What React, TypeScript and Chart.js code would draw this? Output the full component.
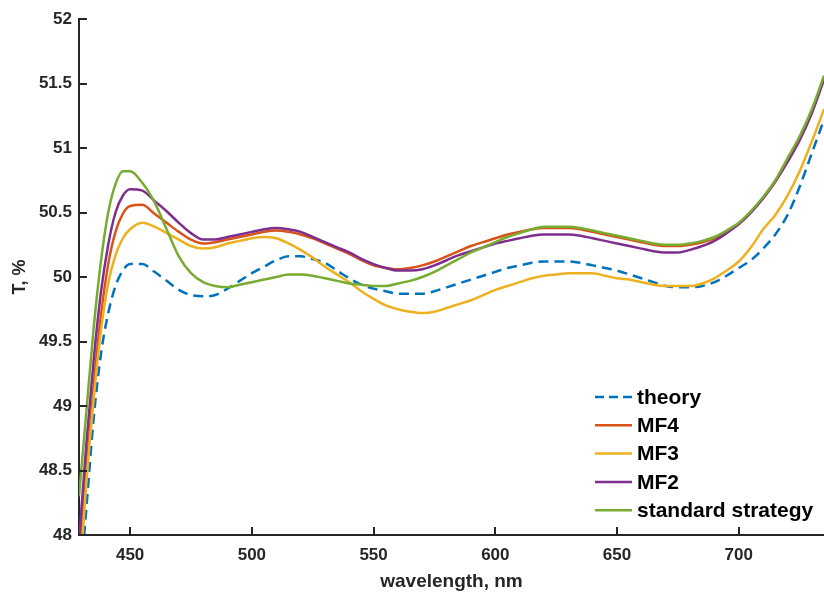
import React, { useEffect, useRef } from "react";
import { Chart, registerables } from "chart.js";

Chart.register(...registerables);

const wavelengths = [429, 432, 435, 438, 441, 444, 447, 450, 455, 460, 465, 470, 475, 480, 485, 490, 495, 500, 505, 510, 515, 520, 525, 530, 535, 540, 545, 550, 555, 560, 565, 570, 575, 580, 585, 590, 595, 600, 605, 610, 615, 620, 625, 630, 635, 640, 645, 650, 655, 660, 665, 670, 675, 680, 685, 690, 695, 700, 705, 710, 715, 720, 725, 730, 735];

const theory = [47.5, 48.2, 48.9, 49.4, 49.72, 49.93, 50.05, 50.1, 50.1, 50.04, 49.97, 49.9, 49.86, 49.85, 49.86, 49.91, 49.97, 50.03, 50.08, 50.13, 50.16, 50.16, 50.14, 50.11, 50.05, 49.99, 49.94, 49.91, 49.89, 49.87, 49.87, 49.87, 49.89, 49.92, 49.95, 49.98, 50.01, 50.04, 50.07, 50.09, 50.11, 50.12, 50.12, 50.12, 50.11, 50.09, 50.07, 50.05, 50.02, 49.99, 49.96, 49.93, 49.92, 49.92, 49.93, 49.96, 50.01, 50.07, 50.13, 50.22, 50.33, 50.48, 50.7, 50.96, 51.22];

const mf4 = [47.75, 48.5, 49.15, 49.7, 50.1, 50.35, 50.49, 50.55, 50.56, 50.49, 50.42, 50.35, 50.29, 50.26, 50.27, 50.29, 50.31, 50.33, 50.35, 50.36, 50.35, 50.33, 50.3, 50.26, 50.22, 50.18, 50.13, 50.09, 50.07, 50.06, 50.07, 50.09, 50.12, 50.16, 50.2, 50.24, 50.27, 50.3, 50.33, 50.35, 50.37, 50.38, 50.38, 50.38, 50.37, 50.35, 50.33, 50.31, 50.29, 50.27, 50.25, 50.24, 50.24, 50.25, 50.27, 50.3, 50.35, 50.41, 50.5, 50.61, 50.74, 50.9, 51.07, 51.28, 51.54];

const mf3 = [47.6, 48.4, 49.05, 49.58, 49.95, 50.17, 50.3, 50.37, 50.42, 50.39, 50.34, 50.29, 50.24, 50.22, 50.23, 50.26, 50.28, 50.3, 50.31, 50.3, 50.26, 50.21, 50.15, 50.08, 50.02, 49.96, 49.89, 49.83, 49.78, 49.75, 49.73, 49.72, 49.73, 49.76, 49.79, 49.82, 49.86, 49.9, 49.93, 49.96, 49.99, 50.01, 50.02, 50.03, 50.03, 50.03, 50.01, 49.99, 49.98, 49.96, 49.94, 49.93, 49.93, 49.93, 49.95, 49.99, 50.05, 50.12, 50.23, 50.37, 50.48, 50.63, 50.82, 51.05, 51.3];

const mf2 = [47.95, 48.7, 49.35, 49.88, 50.25, 50.5, 50.63, 50.68, 50.67, 50.59, 50.51, 50.42, 50.34, 50.29, 50.29, 50.31, 50.33, 50.35, 50.37, 50.38, 50.37, 50.35, 50.31, 50.27, 50.23, 50.19, 50.14, 50.1, 50.07, 50.05, 50.05, 50.06, 50.09, 50.13, 50.17, 50.2, 50.23, 50.26, 50.28, 50.3, 50.32, 50.33, 50.33, 50.33, 50.32, 50.3, 50.28, 50.26, 50.24, 50.22, 50.2, 50.19, 50.19, 50.21, 50.24, 50.28, 50.34, 50.41, 50.5, 50.61, 50.74, 50.89, 51.06, 51.27, 51.53];

const standard = [48.3, 48.95, 49.6, 50.12, 50.5, 50.72, 50.82, 50.82, 50.73, 50.58, 50.37, 50.16, 50.03, 49.96, 49.93, 49.92, 49.94, 49.96, 49.98, 50.0, 50.02, 50.02, 50.01, 49.99, 49.97, 49.95, 49.94, 49.93, 49.93, 49.95, 49.97, 50.0, 50.04, 50.09, 50.14, 50.19, 50.23, 50.27, 50.31, 50.34, 50.37, 50.39, 50.39, 50.39, 50.38, 50.36, 50.34, 50.32, 50.3, 50.28, 50.26, 50.25, 50.25, 50.26, 50.28, 50.31, 50.36, 50.42, 50.51, 50.62, 50.75, 50.92, 51.09, 51.3, 51.56];

const seriesLabels = ["theory", "MF4", "MF3", "MF2", "standard strategy"];
const seriesValues = [theory, mf4, mf3, mf2, standard];
const seriesColors = ["#0072BD", "#D95319", "#EDB120", "#7E2F8E", "#77AC30"];
const seriesDashed = [true, false, false, false, false];

const xTicks = [450, 500, 550, 600, 650, 700];
const yTicks = [48, 48.5, 49, 49.5, 50, 50.5, 51, 51.5, 52];

const xTitle = "wavelength, nm";
const yTitle = "T, %";

const FONT = "'Liberation Sans', Arial, Helvetica, sans-serif";
const AXIS = "#262626";

const overlayPlugin = {
  id: "overlay",
  afterDatasetsDraw(chart: any) {
    const { ctx, chartArea, scales } = chart;
    ctx.save();
    // inside tick marks
    ctx.strokeStyle = AXIS;
    ctx.lineWidth = 2;
    ctx.setLineDash([]);
    xTicks.forEach((v) => {
      const px = Math.round(scales.x.getPixelForValue(v));
      ctx.beginPath();
      ctx.moveTo(px, chartArea.bottom);
      ctx.lineTo(px, chartArea.bottom - 8);
      ctx.stroke();
    });
    yTicks.forEach((v) => {
      const py = Math.round(scales.y.getPixelForValue(v));
      ctx.beginPath();
      ctx.moveTo(chartArea.left, py);
      ctx.lineTo(chartArea.left + 8, py);
      ctx.stroke();
    });
    // legend
    const lx0 = 595;
    const lx1 = 632;
    const tx = 637;
    const y0 = 397;
    const dy = 28.3;
    ctx.font = `bold 21px ${FONT}`;
    ctx.textBaseline = "middle";
    ctx.textAlign = "left";
    seriesLabels.forEach((label, i) => {
      const y = y0 + i * dy;
      ctx.strokeStyle = seriesColors[i];
      ctx.lineWidth = 2.5;
      ctx.setLineDash(seriesDashed[i] ? [9, 5] : []);
      ctx.beginPath();
      ctx.moveTo(lx0, y);
      ctx.lineTo(lx1, y);
      ctx.stroke();
      ctx.setLineDash([]);
      ctx.fillStyle = "#000000";
      ctx.fillText(label, tx, y + 1);
    });
    ctx.restore();
  },
};

export default function App() {
  const canvasRef = useRef<HTMLCanvasElement | null>(null);

  useEffect(() => {
    if (!canvasRef.current) return;
    const datasets = seriesLabels.map((label, i) => ({
      label,
      data: wavelengths.map((w, j) => ({ x: w, y: seriesValues[i][j] })),
      borderColor: seriesColors[i],
      backgroundColor: seriesColors[i],
      borderWidth: 2.5,
      borderDash: seriesDashed[i] ? [10, 6] : [],
      pointRadius: 0,
      fill: false,
      cubicInterpolationMode: "monotone" as const,
      order: seriesLabels.length - i,
    }));

    const tickFont = { family: FONT, size: 17, weight: "bold" as const };

    const chart = new Chart(canvasRef.current, {
      type: "line",
      data: { datasets },
      plugins: [overlayPlugin],
      options: {
        animation: false,
        responsive: false,
        maintainAspectRatio: false,
        devicePixelRatio: 1,
        layout: { padding: { top: 19, right: 0, left: 0, bottom: 0 } },
        plugins: {
          legend: { display: false },
          tooltip: { enabled: false },
        },
        scales: {
          x: {
            type: "linear",
            min: 429,
            max: 735,
            afterBuildTicks: (scale: any) => {
              scale.ticks = xTicks.map((v) => ({ value: v }));
            },
            afterFit: (scale: any) => {
              scale.height = 58;
            },
            grid: { display: true, drawOnChartArea: false, drawTicks: false },
            border: { display: true, color: AXIS, width: 2 },
            ticks: {
              font: tickFont,
              color: AXIS,
              padding: 10,
              maxRotation: 0,
              autoSkip: false,
              callback: (v: any) => String(v),
            },
            title: {
              display: true,
              text: xTitle,
              color: AXIS,
              font: { family: FONT, size: 19, weight: "bold" },
              padding: { top: 0, bottom: 0 },
            },
          },
          y: {
            type: "linear",
            min: 48,
            max: 52,
            afterBuildTicks: (scale: any) => {
              scale.ticks = yTicks.map((v) => ({ value: v }));
            },
            afterFit: (scale: any) => {
              scale.width = 79;
            },
            grid: { display: true, drawOnChartArea: false, drawTicks: false },
            border: { display: true, color: AXIS, width: 2 },
            ticks: {
              font: tickFont,
              color: AXIS,
              padding: 7,
              autoSkip: false,
              callback: (v: any) => String(v),
            },
            title: {
              display: true,
              text: yTitle,
              color: AXIS,
              font: { family: FONT, size: 18, weight: "bold" },
              padding: { top: 9, bottom: 0 },
            },
          },
        },
      },
    });
    return () => chart.destroy();
  }, []);

  return (
    <div style={{ position: "fixed", left: 0, top: 0, width: 824, height: 593, background: "#ffffff" }}>
      <canvas ref={canvasRef} width={824} height={593} style={{ width: 824, height: 593, display: "block" }} />
    </div>
  );
}
